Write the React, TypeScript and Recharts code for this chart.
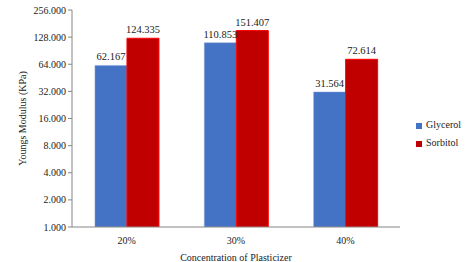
import { BarChart, Bar, XAxis, YAxis, Legend, LabelList } from 'recharts';

const CATEGORIES = ['20%', '30%', '40%'];
const GLYCEROL = [62.167, 110.853, 31.564];
const SORBITOL = [124.335, 151.407, 72.614];
const Y_TICKS = [1, 2, 4, 8, 16, 32, 64, 128, 256];

const FONT = '"Liberation Serif", "Times New Roman", serif';

export default function App() {
  const data = CATEGORIES.map((c, i) => ({
    name: c,
    glycerol: GLYCEROL[i],
    sorbitol: SORBITOL[i],
  }));

  const fmt = (v: any) => Number(v).toFixed(3);

  return (
    <div style={styles.wrap}>
      <BarChart
        width={465}
        height={262}
        data={data}
        margin={{ top: 10, right: 5, left: 0, bottom: 0 }}
        barCategoryGap="21%"
        barGap={0}
        style={{ fontFamily: FONT }}
      >
        <XAxis
          dataKey="name"
          height={35}
          tickLine={false}
          stroke="#868686"
          tick={{ fontSize: 10, fill: '#222', fontFamily: FONT }}
          tickMargin={4}
          label={{
            value: 'Concentration of Plasticizer',
            position: 'insideBottom',
            offset: 1,
            style: { fontSize: 10, fill: '#222', fontFamily: FONT },
          }}
        />
        <YAxis
          scale="log"
          domain={[1, 256]}
          ticks={Y_TICKS}
          interval={0}
          allowDataOverflow
          width={72}
          stroke="#868686"
          tickSize={4}
          tickFormatter={fmt}
          tick={{ fontSize: 10, fill: '#222', fontFamily: FONT }}
          label={{
            value: 'Youngs Modulus (KPa)',
            angle: -90,
            position: 'insideLeft',
            offset: 22,
            style: { textAnchor: 'middle', fontSize: 10, fill: '#222', fontFamily: FONT },
          }}
        />
        <Legend
          layout="vertical"
          align="right"
          verticalAlign="top"
          iconType="square"
          iconSize={6}
          wrapperStyle={{ left: 416, top: 116, width: 60, fontSize: 10, fontFamily: FONT, lineHeight: '18px' }}
          formatter={(v: string) => <span style={{ color: '#222', fontFamily: FONT }}>{v}</span>}
        />
        <Bar dataKey="glycerol" name="Glycerol" fill="#4472C4" stroke="#8EA9DB" strokeWidth={0.5} isAnimationActive={false}>
          <LabelList dataKey="glycerol" position="top" formatter={fmt} style={styles.label as any} />
        </Bar>
        <Bar dataKey="sorbitol" name="Sorbitol" fill="#C00000" stroke="#FF0000" strokeWidth={1} isAnimationActive={false}>
          <LabelList dataKey="sorbitol" position="top" formatter={fmt} style={styles.label as any} />
        </Bar>
      </BarChart>
    </div>
  );
}

const styles: Record<string, React.CSSProperties> = {
  wrap: {
    position: 'absolute',
    left: 0,
    top: 0,
    width: 465,
    height: 262,
    background: '#fff',
    fontFamily: FONT,
  },
  label: {
    fontSize: 10.5,
    fill: '#222',
    fontFamily: FONT,
  },
};
